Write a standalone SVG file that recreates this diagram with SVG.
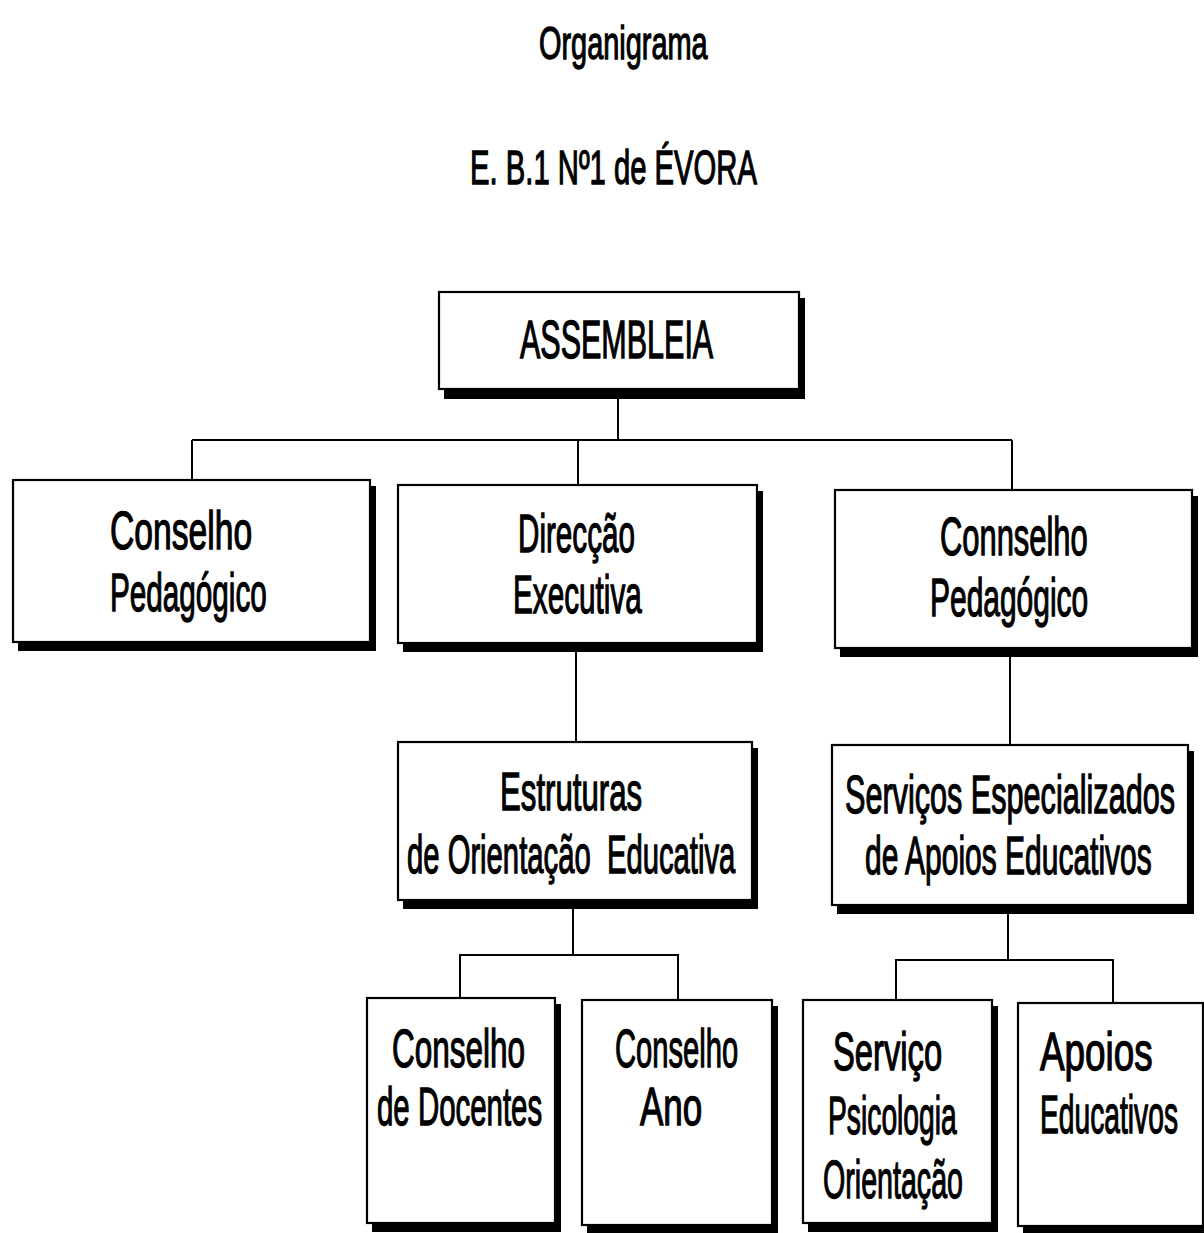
<svg xmlns="http://www.w3.org/2000/svg" width="1204" height="1233" viewBox="0 0 1204 1233">
<style>
.bg{fill:#fff}
.sh{fill:#000}
.bx{fill:#fff;stroke:#000;stroke-width:2.2}
.t{font-family:"Liberation Sans Narrow","Liberation Sans",Arial,sans-serif;font-size:53px;fill:#000;stroke:#000;stroke-width:1.3}
.c{fill:none;stroke:#000;stroke-width:2}
</style>
<rect class="bg" x="0" y="0" width="1204" height="1233"/>
<g id="title">
<text class="t" transform="translate(539,59) scale(0.7,1)" textLength="241" lengthAdjust="spacingAndGlyphs" style="font-size:47px">Organigrama</text>
<text class="t" transform="translate(470,184) scale(0.7,1)" textLength="410" lengthAdjust="spacingAndGlyphs" style="font-size:49px">E. B.1 Nº1 de ÉVORA</text>
</g>
<g id="connectors">
<path class="c" d="M618 398V440M192 440H1012M192 440V480M578 440V485M1012 440V490"/>
<path class="c" d="M576 650V742M1010 655V745"/>
<path class="c" d="M573 906V955H460V998M573 955H678V1000"/>
<path class="c" d="M1008 912V960H896V1000M1008 960H1113V1003"/>
</g>
<g id="assembleia">
<rect class="sh" x="444" y="298" width="361" height="101"/>
<rect class="bx" x="439" y="292" width="360" height="97"/>
<text class="t" transform="translate(520,358) scale(0.7,1)" textLength="276" lengthAdjust="spacingAndGlyphs">ASSEMBLEIA</text>
</g>
<g id="conselho-pedagogico">
<rect class="sh" x="18" y="486" width="358" height="165"/>
<rect class="bx" x="13" y="480" width="357" height="162"/>
<text class="t" transform="translate(110,549) scale(0.7,1)" textLength="203" lengthAdjust="spacingAndGlyphs">Conselho</text>
<text class="t" transform="translate(110,611) scale(0.7,1)" textLength="224" lengthAdjust="spacingAndGlyphs">Pedagógico</text>
</g>
<g id="direccao-executiva">
<rect class="sh" x="403" y="491" width="360" height="161"/>
<rect class="bx" x="398" y="485" width="359" height="158"/>
<text class="t" transform="translate(518,552) scale(0.7,1)" textLength="167" lengthAdjust="spacingAndGlyphs">Direcção</text>
<text class="t" transform="translate(513,613) scale(0.7,1)" textLength="184" lengthAdjust="spacingAndGlyphs">Executiva</text>
</g>
<g id="connselho-pedagogico">
<rect class="sh" x="840" y="496" width="358" height="161"/>
<rect class="bx" x="835" y="490" width="357" height="158"/>
<text class="t" transform="translate(940,555) scale(0.7,1)" textLength="211" lengthAdjust="spacingAndGlyphs">Connselho</text>
<text class="t" transform="translate(930,616) scale(0.7,1)" textLength="226" lengthAdjust="spacingAndGlyphs">Pedagógico</text>
</g>
<g id="estruturas">
<rect class="sh" x="403" y="748" width="355" height="161"/>
<rect class="bx" x="398" y="742" width="354" height="158"/>
<text class="t" transform="translate(500,810) scale(0.7,1)" textLength="203" lengthAdjust="spacingAndGlyphs">Estruturas</text>
<text class="t" transform="translate(407,873) scale(0.7,1)" textLength="469" lengthAdjust="spacingAndGlyphs" xml:space="preserve">de Orientação  Educativa</text>
</g>
<g id="servicos-especializados">
<rect class="sh" x="837" y="751" width="357" height="163"/>
<rect class="bx" x="832" y="745" width="356" height="160"/>
<text class="t" transform="translate(845,813) scale(0.6,1)" textLength="550" lengthAdjust="spacingAndGlyphs">Serviços Especializados</text>
<text class="t" transform="translate(865,874) scale(0.6,1)" textLength="478" lengthAdjust="spacingAndGlyphs">de Apoios Educativos</text>
</g>
<g id="conselho-docentes">
<rect class="sh" x="372" y="1004" width="189" height="228"/>
<rect class="bx" x="367" y="998" width="188" height="225"/>
<text class="t" transform="translate(392,1067) scale(0.7,1)" textLength="190" lengthAdjust="spacingAndGlyphs">Conselho</text>
<text class="t" transform="translate(377,1125) scale(0.7,1)" textLength="236" lengthAdjust="spacingAndGlyphs">de Docentes</text>
</g>
<g id="conselho-ano">
<rect class="sh" x="587" y="1006" width="191" height="228"/>
<rect class="bx" x="582" y="1000" width="190" height="225"/>
<text class="t" transform="translate(615,1067) scale(0.7,1)" textLength="176" lengthAdjust="spacingAndGlyphs">Conselho</text>
<text class="t" transform="translate(640,1125) scale(0.7,1)" textLength="89" lengthAdjust="spacingAndGlyphs">Ano</text>
</g>
<g id="servico-psicologia">
<rect class="sh" x="808" y="1006" width="190" height="226"/>
<rect class="bx" x="803" y="1000" width="189" height="223"/>
<text class="t" transform="translate(833,1070) scale(0.7,1)" textLength="156" lengthAdjust="spacingAndGlyphs">Serviço</text>
<text class="t" transform="translate(828,1134) scale(0.7,1)" textLength="184" lengthAdjust="spacingAndGlyphs">Psicologia</text>
<text class="t" transform="translate(823,1198) scale(0.7,1)" textLength="200" lengthAdjust="spacingAndGlyphs">Orientação</text>
</g>
<g id="apoios-educativos">
<rect class="sh" x="1023" y="1009" width="186" height="226"/>
<rect class="bx" x="1018" y="1003" width="185" height="223"/>
<text class="t" transform="translate(1040,1070) scale(0.7,1)" textLength="161" lengthAdjust="spacingAndGlyphs">Apoios</text>
<text class="t" transform="translate(1040,1133) scale(0.6,1)" textLength="230" lengthAdjust="spacingAndGlyphs">Educativos</text>
</g>
</svg>
